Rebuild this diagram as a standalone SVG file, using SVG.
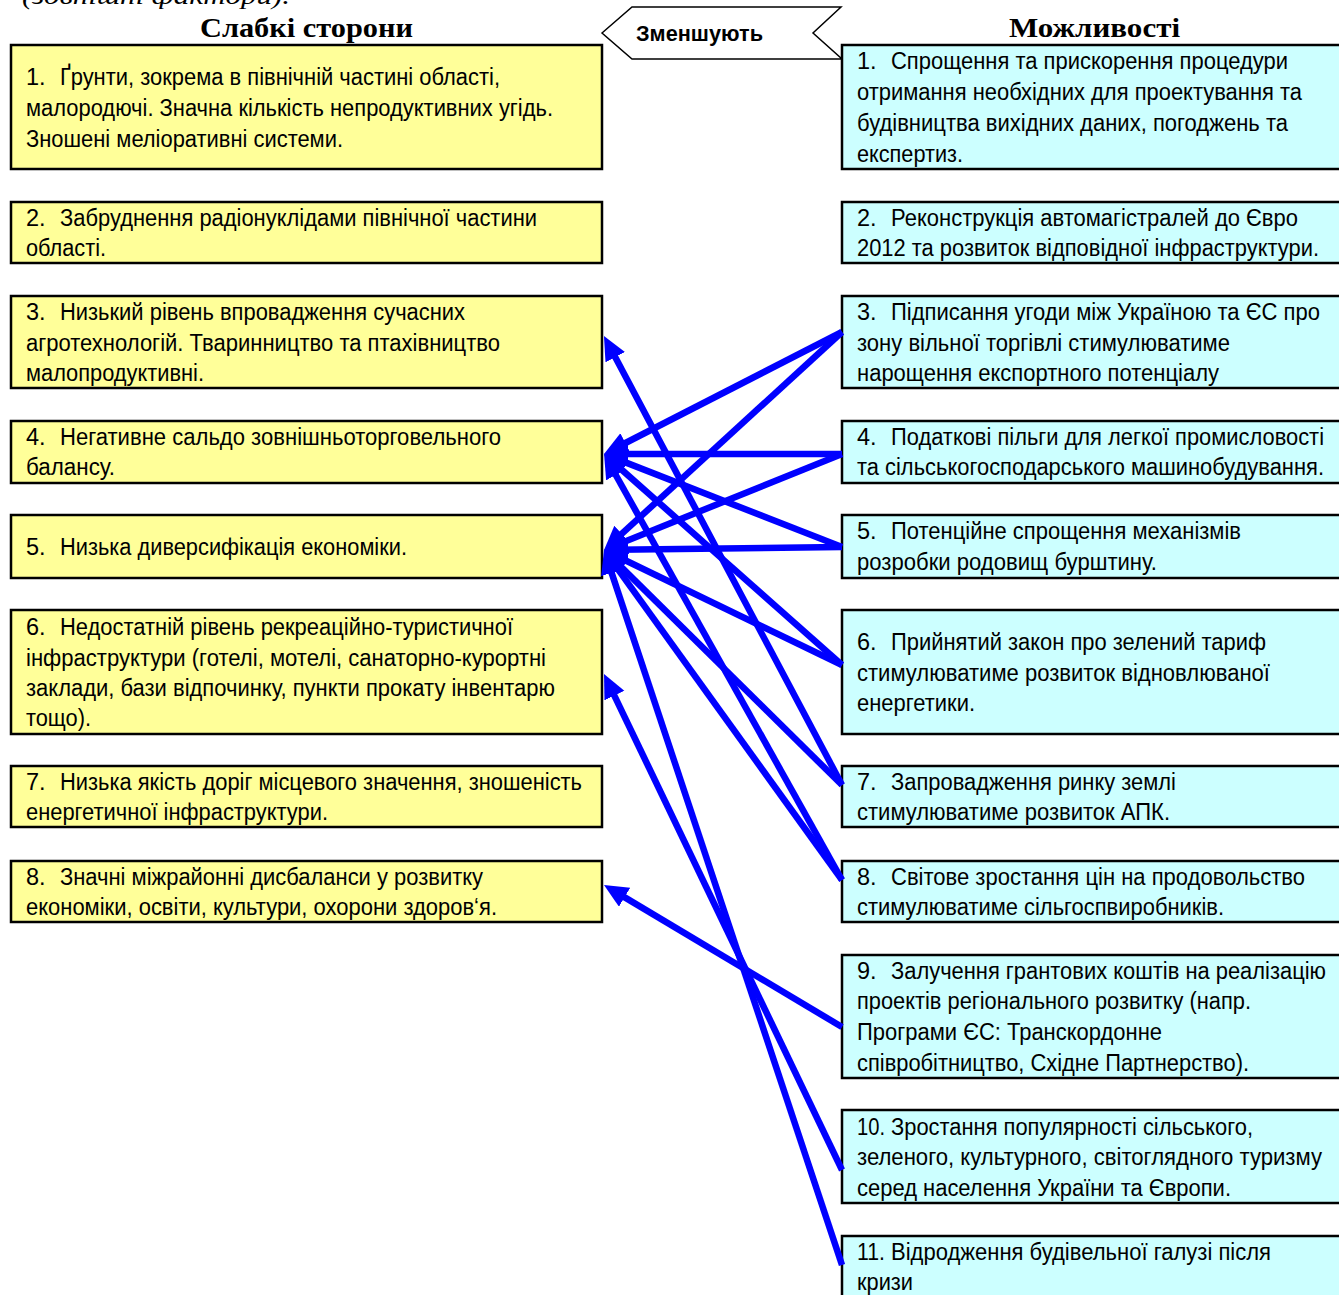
<svg xmlns="http://www.w3.org/2000/svg" width="1339" height="1295" viewBox="0 0 1339 1295">
<defs>
<style>
.t{font-family:"Liberation Sans Narrow","Arial Narrow","Liberation Sans",Arial,sans-serif;font-size:23.5px;fill:#000}
.h{font-family:"Liberation Serif","DejaVu Serif",serif;font-size:27px;font-weight:bold;fill:#000}
.w{fill:#FFFF99;stroke:#000;stroke-width:2.5}
.o{fill:#CCFFFF;stroke:#000;stroke-width:2.5}
.c{stroke:#0000FF;stroke-width:6.5;fill:none;marker-end:url(#ah)}
</style>
<marker id="ah" markerUnits="userSpaceOnUse" markerWidth="26" markerHeight="24" refX="12" refY="11" orient="auto" viewBox="0 0 26 24">
<path d="M0,0 L24,11 L0,22 z" fill="#0000FF"/>
</marker>
</defs>
<rect width="1339" height="1295" fill="#fff"/>
<text x="22" y="4" font-family="Liberation Serif,DejaVu Serif,serif" font-size="26" font-style="italic" textLength="268" lengthAdjust="spacingAndGlyphs">(зовнішні фактори).</text>
<text class="h" x="200" y="37" textLength="213" lengthAdjust="spacingAndGlyphs">Слабкі сторони</text>
<text class="h" x="1009" y="37" textLength="171" lengthAdjust="spacingAndGlyphs">Можливості</text>
<g id="reduce">
<polygon points="602,33 632,7 841,7 813,33 842,59 632,59" fill="#fff" stroke="#000" stroke-width="1.5"/>
<text x="636" y="41" font-family="Liberation Sans,Arial,sans-serif" font-size="22" font-weight="bold" textLength="127" lengthAdjust="spacingAndGlyphs">Зменшують</text>
</g>
<g id="w1"><rect class="w" x="11" y="45" width="591" height="124"/>
<text class="t" x="26" y="85">1.</text><text class="t" x="60" y="85" textLength="440" lengthAdjust="spacingAndGlyphs">Ґрунти, зокрема в північній частині області,</text>
<text class="t" x="26" y="116" textLength="527" lengthAdjust="spacingAndGlyphs">малородючі. Значна кількість непродуктивних угідь.</text>
<text class="t" x="26" y="147" textLength="317" lengthAdjust="spacingAndGlyphs">Зношені меліоративні системи.</text></g>
<g id="w2"><rect class="w" x="11" y="202" width="591" height="61"/>
<text class="t" x="26" y="226">2.</text><text class="t" x="60" y="226" textLength="477" lengthAdjust="spacingAndGlyphs">Забруднення радіонуклідами північної частини</text>
<text class="t" x="26" y="256" textLength="80" lengthAdjust="spacingAndGlyphs">області.</text></g>
<g id="w3"><rect class="w" x="11" y="296" width="591" height="92"/>
<text class="t" x="26" y="320">3.</text><text class="t" x="60" y="320" textLength="405" lengthAdjust="spacingAndGlyphs">Низький рівень впровадження сучасних</text>
<text class="t" x="26" y="351" textLength="474" lengthAdjust="spacingAndGlyphs">агротехнологій. Тваринництво та птахівництво</text>
<text class="t" x="26" y="381" textLength="178" lengthAdjust="spacingAndGlyphs">малопродуктивні.</text></g>
<g id="w4"><rect class="w" x="11" y="421" width="591" height="62"/>
<text class="t" x="26" y="445">4.</text><text class="t" x="60" y="445" textLength="441" lengthAdjust="spacingAndGlyphs">Негативне сальдо зовнішньоторговельного</text>
<text class="t" x="26" y="475" textLength="89" lengthAdjust="spacingAndGlyphs">балансу.</text></g>
<g id="w5"><rect class="w" x="11" y="515" width="591" height="63"/>
<text class="t" x="26" y="555">5.</text><text class="t" x="60" y="555" textLength="347" lengthAdjust="spacingAndGlyphs">Низька диверсифікація економіки.</text></g>
<g id="w6"><rect class="w" x="11" y="610" width="591" height="124"/>
<text class="t" x="26" y="635">6.</text><text class="t" x="60" y="635" textLength="453" lengthAdjust="spacingAndGlyphs">Недостатній рівень рекреаційно-туристичної</text>
<text class="t" x="26" y="666" textLength="520" lengthAdjust="spacingAndGlyphs">інфраструктури (готелі, мотелі, санаторно-курортні</text>
<text class="t" x="26" y="696" textLength="529" lengthAdjust="spacingAndGlyphs">заклади, бази відпочинку, пункти прокату інвентарю</text>
<text class="t" x="26" y="726" textLength="65" lengthAdjust="spacingAndGlyphs">тощо).</text></g>
<g id="w7"><rect class="w" x="11" y="766" width="591" height="61"/>
<text class="t" x="26" y="790">7.</text><text class="t" x="60" y="790" textLength="522" lengthAdjust="spacingAndGlyphs">Низька якість доріг місцевого значення, зношеність</text>
<text class="t" x="26" y="820" textLength="302" lengthAdjust="spacingAndGlyphs">енергетичної інфраструктури.</text></g>
<g id="w8"><rect class="w" x="11" y="861" width="591" height="61"/>
<text class="t" x="26" y="885">8.</text><text class="t" x="60" y="885" textLength="423" lengthAdjust="spacingAndGlyphs">Значні міжрайонні дисбаланси у розвитку</text>
<text class="t" x="26" y="915" textLength="471" lengthAdjust="spacingAndGlyphs">економіки, освіти, культури, охорони здоров‘я.</text></g>
<g id="o1"><rect class="o" x="842" y="45" width="505" height="124"/>
<text class="t" x="857" y="69">1.</text><text class="t" x="891" y="69" textLength="397" lengthAdjust="spacingAndGlyphs">Спрощення та прискорення процедури</text>
<text class="t" x="857" y="100" textLength="445" lengthAdjust="spacingAndGlyphs">отримання необхідних для проектування та</text>
<text class="t" x="857" y="131" textLength="431" lengthAdjust="spacingAndGlyphs">будівництва вихідних даних, погоджень та</text>
<text class="t" x="857" y="162" textLength="106" lengthAdjust="spacingAndGlyphs">експертиз.</text></g>
<g id="o2"><rect class="o" x="842" y="202" width="505" height="61"/>
<text class="t" x="857" y="226">2.</text><text class="t" x="891" y="226" textLength="407" lengthAdjust="spacingAndGlyphs">Реконструкція автомагістралей до Євро</text>
<text class="t" x="857" y="256" textLength="462" lengthAdjust="spacingAndGlyphs">2012 та розвиток відповідної інфраструктури.</text></g>
<g id="o3"><rect class="o" x="842" y="296" width="505" height="92"/>
<text class="t" x="857" y="320">3.</text><text class="t" x="891" y="320" textLength="429" lengthAdjust="spacingAndGlyphs">Підписання угоди між Україною та ЄС про</text>
<text class="t" x="857" y="351" textLength="373" lengthAdjust="spacingAndGlyphs">зону вільної торгівлі стимулюватиме</text>
<text class="t" x="857" y="381" textLength="362" lengthAdjust="spacingAndGlyphs">нарощення експортного потенціалу</text></g>
<g id="o4"><rect class="o" x="842" y="421" width="505" height="62"/>
<text class="t" x="857" y="445">4.</text><text class="t" x="891" y="445" textLength="433" lengthAdjust="spacingAndGlyphs">Податкові пільги для легкої промисловості</text>
<text class="t" x="857" y="475" textLength="467" lengthAdjust="spacingAndGlyphs">та сільськогосподарського машинобудування.</text></g>
<g id="o5"><rect class="o" x="842" y="515" width="505" height="63"/>
<text class="t" x="857" y="539">5.</text><text class="t" x="891" y="539" textLength="350" lengthAdjust="spacingAndGlyphs">Потенційне спрощення механізмів</text>
<text class="t" x="857" y="570" textLength="300" lengthAdjust="spacingAndGlyphs">розробки родовищ бурштину.</text></g>
<g id="o6"><rect class="o" x="842" y="610" width="505" height="124"/>
<text class="t" x="857" y="650">6.</text><text class="t" x="891" y="650" textLength="375" lengthAdjust="spacingAndGlyphs">Прийнятий закон про зелений тариф</text>
<text class="t" x="857" y="681" textLength="413" lengthAdjust="spacingAndGlyphs">стимулюватиме розвиток відновлюваної</text>
<text class="t" x="857" y="711" textLength="118" lengthAdjust="spacingAndGlyphs">енергетики.</text></g>
<g id="o7"><rect class="o" x="842" y="766" width="505" height="61"/>
<text class="t" x="857" y="790">7.</text><text class="t" x="891" y="790" textLength="285" lengthAdjust="spacingAndGlyphs">Запровадження ринку землі</text>
<text class="t" x="857" y="820" textLength="313" lengthAdjust="spacingAndGlyphs">стимулюватиме розвиток АПК.</text></g>
<g id="o8"><rect class="o" x="842" y="861" width="505" height="61"/>
<text class="t" x="857" y="885">8.</text><text class="t" x="891" y="885" textLength="414" lengthAdjust="spacingAndGlyphs">Світове зростання цін на продовольство</text>
<text class="t" x="857" y="915" textLength="367" lengthAdjust="spacingAndGlyphs">стимулюватиме сільгоспвиробників.</text></g>
<g id="o9"><rect class="o" x="842" y="955" width="505" height="123"/>
<text class="t" x="857" y="979">9.</text><text class="t" x="891" y="979" textLength="435" lengthAdjust="spacingAndGlyphs">Залучення грантових коштів на реалізацію</text>
<text class="t" x="857" y="1009" textLength="394" lengthAdjust="spacingAndGlyphs">проектів регіонального розвитку (напр.</text>
<text class="t" x="857" y="1040" textLength="305" lengthAdjust="spacingAndGlyphs">Програми ЄС: Транскордонне</text>
<text class="t" x="857" y="1071" textLength="392" lengthAdjust="spacingAndGlyphs">співробітництво, Східне Партнерство).</text></g>
<g id="o10"><rect class="o" x="842" y="1110" width="505" height="93"/>
<text class="t" x="857" y="1135" textLength="28" lengthAdjust="spacingAndGlyphs">10.</text><text class="t" x="891" y="1135" textLength="362" lengthAdjust="spacingAndGlyphs">Зростання популярності сільського,</text>
<text class="t" x="857" y="1165" textLength="465" lengthAdjust="spacingAndGlyphs">зеленого, культурного, світоглядного туризму</text>
<text class="t" x="857" y="1196" textLength="374" lengthAdjust="spacingAndGlyphs">серед населення України та Європи.</text></g>
<g id="o11"><rect class="o" x="842" y="1236" width="505" height="70"/>
<text class="t" x="857" y="1260" textLength="28" lengthAdjust="spacingAndGlyphs">11.</text><text class="t" x="891" y="1260" textLength="380" lengthAdjust="spacingAndGlyphs">Відродження будівельної галузі після</text>
<text class="t" x="857" y="1290" textLength="56" lengthAdjust="spacingAndGlyphs">кризи</text></g>
<g id="connectors">
<line class="c" x1="842" y1="332" x2="614.7" y2="448.5"/>
<line class="c" x1="842" y1="332" x2="612.9" y2="541.9"/>
<line class="c" x1="842" y1="454" x2="616" y2="454"/>
<line class="c" x1="842" y1="454" x2="615.1" y2="545.5"/>
<line class="c" x1="842" y1="547" x2="615.2" y2="458.4"/>
<line class="c" x1="842" y1="547" x2="616" y2="549.8"/>
<line class="c" x1="842" y1="665" x2="613.0" y2="462.0"/>
<line class="c" x1="842" y1="665" x2="614.8" y2="555.2"/>
<line class="c" x1="842" y1="785" x2="609.6" y2="346.6"/>
<line class="c" x1="842" y1="785" x2="612.5" y2="558.4"/>
<line class="c" x1="842" y1="880" x2="609.9" y2="464.5"/>
<line class="c" x1="842" y1="880" x2="611.0" y2="559.7"/>
<line class="c" x1="842" y1="1027" x2="614.3" y2="891.1"/>
<line class="c" x1="842" y1="1170" x2="609.2" y2="684.8"/>
<line class="c" x1="842" y1="1265" x2="607.8" y2="561.4"/>
</g>
</svg>
